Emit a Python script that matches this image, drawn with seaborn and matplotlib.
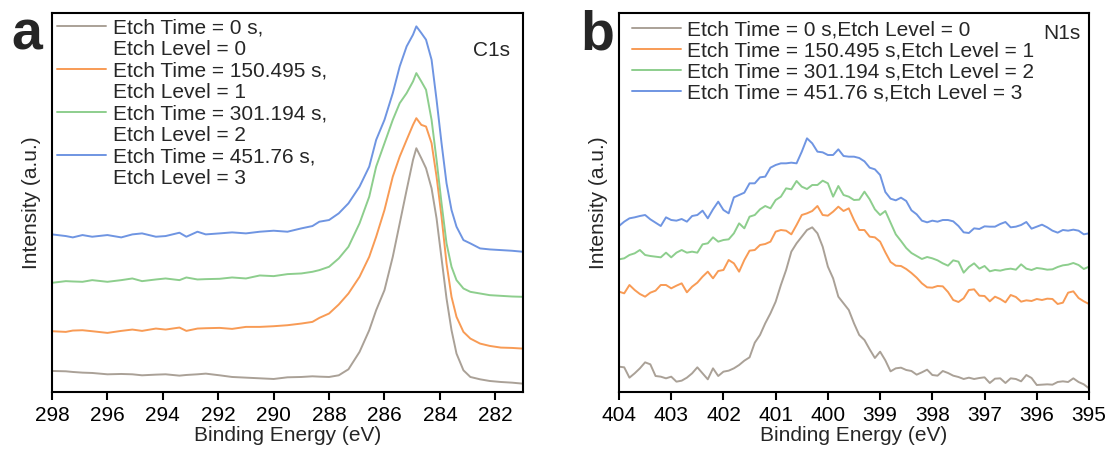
import matplotlib
matplotlib.use("Agg")
import matplotlib.pyplot as plt
import numpy as np
import pandas as pd
import seaborn as sns
from matplotlib.lines import Line2D

# ---- data (intensity in arbitrary units) ----
etch_times = ["0", "150.495", "301.194", "451.76"]
etch_levels = ["0", "1", "2", "3"]
colors = ["#aaa197", "#f89b55", "#8dce8d", "#6f95e2"]

c1s_energy = [298, 297.5, 297.25, 296.9, 296.55, 296, 295.5, 295.1, 294.75, 294.25,
              293.9, 293.4, 293.15, 292.75, 292.45, 291.95, 291.5, 291, 290.5, 290,
              289.5, 289, 288.6, 288.35, 288, 287.65, 287.3, 286.9, 286.55, 286.3,
              286, 285.7, 285.45, 285.2, 284.97, 284.85, 284.67, 284.5, 284.3, 284.12,
              283.94, 283.76, 283.58, 283.4, 283.15, 282.9, 282.55, 282.2, 281.8, 281.4, 281.0]
c1s_level0 = [63, 62, 60, 58, 57, 53, 54, 53, 50, 52, 53, 49, 51, 53, 55, 50, 45, 43, 41, 39,
              44, 45, 47, 46, 45, 50, 68, 120, 185, 245, 305, 405, 505, 605, 695, 730, 700,
              670, 610, 520, 400, 280, 185, 115, 65, 45, 38, 33, 30, 28, 25]
c1s_level1 = [182, 180, 184, 185, 182, 177, 183, 187, 183, 190, 187, 193, 183, 190, 191, 192,
              189, 195, 195, 197, 200, 205, 210, 222, 235, 262, 295, 345, 405, 465, 545, 645,
              705, 755, 800, 820, 800, 795, 745, 645, 525, 385, 285, 225, 180, 160, 145, 138,
              133, 132, 130]
c1s_level2 = [327, 332, 331, 330, 335, 330, 335, 340, 332, 337, 340, 335, 343, 337, 338, 339,
              343, 340, 349, 347, 353, 355, 360, 365, 375, 400, 435, 505, 585, 675, 745, 815,
              865, 895, 930, 955, 930, 905, 815, 695, 565, 445, 375, 335, 310, 300, 295, 290,
              288, 286, 285]
c1s_level3 = [472, 467, 463, 470, 465, 470, 463, 472, 475, 465, 467, 477, 465, 480, 472, 475,
              478, 475, 480, 483, 480, 490, 497, 510, 515, 535, 565, 615, 675, 755, 815, 895,
              975, 1035, 1070, 1095, 1075, 1055, 995, 875, 745, 625, 545, 495, 455, 445, 430,
              427, 425, 423, 420]

n1s_energy = np.round(np.arange(404.0, 394.95, -0.1), 1)
n1s_level0 = [76, 74, 43, 56, 71, 89, 83, 48, 46, 41, 46, 31, 34, 43, 56, 74, 56, 38, 71, 48,
              61, 64, 71, 81, 94, 104, 148, 171, 206, 236, 271, 321, 366, 421, 446, 466, 486,
              494, 476, 436, 376, 341, 286, 266, 246, 206, 171, 156, 128, 102, 121, 95, 62, 71,
              73, 66, 63, 52, 59, 67, 51, 49, 63, 57, 49, 45, 39, 43, 39, 42, 44, 27, 40, 41,
              27, 41, 39, 32, 51, 42, 21, 22, 23, 22, 30, 32, 30, 41, 30, 23, 11]
n1s_level1 = [301, 296, 321, 306, 294, 286, 298, 304, 321, 321, 311, 319, 326, 299, 316, 328,
              346, 361, 341, 363, 366, 396, 386, 361, 396, 424, 426, 441, 444, 451, 481, 486,
              484, 473, 501, 531, 536, 543, 558, 531, 529, 541, 556, 543, 551, 516, 486, 486,
              466, 464, 451, 419, 390, 379, 378, 369, 357, 343, 326, 314, 313, 318, 317, 300,
              276, 270, 281, 306, 308, 289, 288, 272, 286, 279, 269, 291, 285, 271, 275, 273,
              279, 276, 280, 279, 264, 268, 298, 302, 282, 272, 264]
n1s_level2 = [398, 401, 411, 416, 426, 411, 408, 406, 404, 418, 404, 418, 426, 418, 421, 418,
              443, 446, 464, 451, 456, 458, 476, 506, 491, 526, 531, 548, 558, 551, 576, 586,
              611, 608, 633, 616, 609, 621, 621, 634, 626, 586, 618, 591, 586, 576, 577, 601,
              578, 548, 531, 543, 508, 473, 453, 432, 417, 408, 399, 405, 401, 395, 386, 379,
              395, 391, 358, 375, 386, 370, 378, 362, 366, 364, 368, 370, 367, 383, 370, 366,
              372, 370, 367, 368, 375, 380, 382, 387, 381, 369, 376]
n1s_level3 = [498, 511, 521, 524, 528, 531, 518, 508, 498, 524, 516, 514, 519, 511, 528, 531,
              544, 521, 548, 571, 546, 536, 584, 591, 598, 626, 626, 644, 646, 673, 681, 686,
              686, 688, 686, 721, 761, 746, 721, 719, 711, 711, 728, 708, 706, 706, 702, 692,
              673, 668, 651, 600, 580, 575, 583, 573, 545, 533, 514, 509, 514, 511, 516, 516,
              512, 498, 479, 477, 491, 489, 497, 496, 496, 504, 510, 494, 496, 501, 510, 490,
              496, 502, 494, 484, 478, 486, 484, 487, 484, 473, 476]


def long_frame(energy, series):
    parts = []
    for level, values in zip(etch_levels, series):
        parts.append(pd.DataFrame({"energy": energy, "intensity": values, "level": level}))
    return pd.concat(parts, ignore_index=True)


df_c1s = long_frame(c1s_energy, [c1s_level0, c1s_level1, c1s_level2, c1s_level3])
df_n1s = long_frame(n1s_energy, [n1s_level0, n1s_level1, n1s_level2, n1s_level3])
palette = dict(zip(etch_levels, colors))

sns.set_style("ticks")
plt.rcParams["font.family"] = ["Liberation Sans", "DejaVu Sans"]

fig = plt.figure(figsize=(11.1, 4.5), dpi=100)
ax_a = fig.add_axes([52 / 1110, 58 / 450, 471 / 1110, 379 / 450])
ax_b = fig.add_axes([619 / 1110, 58 / 450, 470 / 1110, 379 / 450])


def style_axis(ax, xlim, xticks, ylim):
    ax.set_xlim(*xlim)
    ax.set_ylim(*ylim)
    ax.set_xticks(xticks)
    ax.set_yticks([])
    ax.set_xlabel("Binding Energy (eV)", fontsize=15, labelpad=1)
    ax.set_ylabel("Intensity (a.u.)", fontsize=15, labelpad=8)
    for sp in ax.spines.values():
        sp.set_linewidth(1.5)
        sp.set_color("black")
    ax.tick_params(axis="x", direction="out", length=6, width=1.5,
                   labelsize=15, pad=4, colors="black")


# Panel a: C1s
sns.lineplot(data=df_c1s, x="energy", y="intensity", hue="level", palette=palette,
             linewidth=1.4, legend=False, ax=ax_a)
style_axis(ax_a, (298, 281), np.arange(298, 281, -2), (0, 1135))
handles, labels = [], []
for t, lv, c in zip(etch_times, etch_levels, colors):
    handles += [Line2D([], [], color=c, lw=1.4), Line2D([], [], color="none")]
    labels += [f"Etch Time = {t} s,", f"Etch Level = {lv}"]
ax_a.legend(handles, labels, loc="upper left", bbox_to_anchor=(5 / 471, 1 - 5 / 379),
            frameon=False, fontsize=15, handlelength=2.35, handletextpad=0.35,
            labelspacing=0.12, borderpad=0, borderaxespad=0)
ax_a.text(0.972, 0.902, "C1s", transform=ax_a.transAxes, ha="right", va="center", fontsize=15)

# Panel b: N1s
sns.lineplot(data=df_n1s, x="energy", y="intensity", hue="level", palette=palette,
             linewidth=1.4, legend=False, ax=ax_b)
style_axis(ax_b, (404, 395), np.arange(404, 394, -1), (0, 1137))
handles = [Line2D([], [], color=c, lw=1.4) for c in colors]
labels = [f"Etch Time = {t} s,Etch Level = {lv}" for t, lv in zip(etch_times, etch_levels)]
ax_b.legend(handles, labels, loc="upper left", bbox_to_anchor=(13 / 470, 1 - 7 / 379),
            frameon=False, fontsize=15, handlelength=2.35, handletextpad=0.3,
            labelspacing=0.1, borderpad=0, borderaxespad=0)
ax_b.text(0.981, 0.947, "N1s", transform=ax_b.transAxes, ha="right", va="center", fontsize=15)

fig.text(11 / 1110, 1 - 49 / 450, "a", fontsize=40, fontweight="bold", va="baseline")
fig.text(580 / 1110, 1 - 50 / 450, "b", fontsize=40, fontweight="bold", va="baseline")

fig.savefig("out.png", dpi=100)
